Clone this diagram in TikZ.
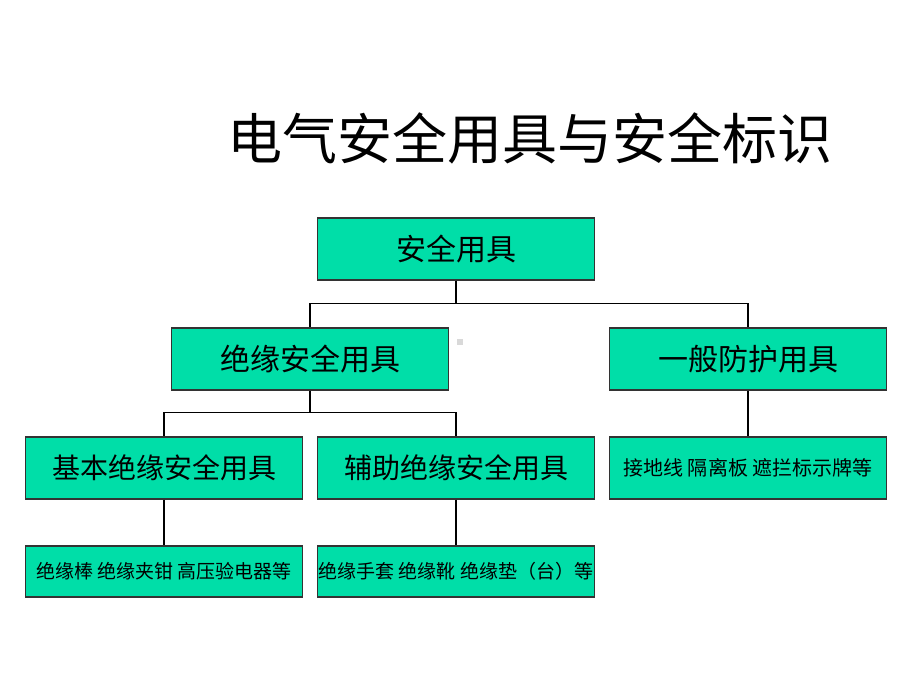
\documentclass[tikz,border=0pt]{standalone}
\usepackage{fontspec}
\setmainfont{Noto Sans CJK SC}
\usepackage{xcolor}
\definecolor{boxgreen}{RGB}{0,222,168}
\newcommand{\boxwd}{277pt}

\begin{document}
\begin{tikzpicture}[x=1pt,y=-1pt]
                \useasboundingbox (0,0) rectangle (920,690);
                \node (T) at (530,138) {\fontsize{55}{60}\selectfont 电气安全用具与安全标识};

                \begin{scope}[every node/.style={rectangle,draw=black!80,line width=1.3pt,fill=boxgreen,
                    minimum width=\boxwd,inner sep=0pt}]
                    \node[minimum height=62pt,font=\fontsize{30}{34}\selectfont] (R) at (456,249) {安全用具};
                    \node[minimum height=62pt,font=\fontsize{30}{34}\selectfont] (I) at (310,359) {绝缘安全用具};
                    \node[minimum height=62pt,font=\fontsize{30}{34}\selectfont] (G) at (748,359) {一般防护用具};
                    \node[minimum height=62pt,font=\fontsize{28}{32}\selectfont] (B) at (164,468) {基本绝缘安全用具};
                    \node[minimum height=62pt,font=\fontsize{28}{32}\selectfont] (A) at (456,468) {辅助绝缘安全用具};
                    \node[minimum height=62pt,font=\fontsize{20}{24}\selectfont] (GL) at (748,468) {接地线 隔离板 遮拦标示牌等};
                    \node[minimum height=51pt,font=\fontsize{19}{23}\selectfont] (BL) at (164,571.5) {绝缘棒 绝缘夹钳 高压验电器等};
                    \node[minimum height=51pt,font=\fontsize{19}{23}\selectfont] (AL) at (456,571.5) {绝缘手套 绝缘靴 绝缘垫（台）等};
                \end{scope}

                \begin{scope}[line width=1.3pt]
                    \draw (R.south) -- +(0,23) -| (I.north);
                    \draw (R.south) -- +(0,23) -| (G.north);
                    \draw (I.south) -- +(0,22) -| (B.north);
                    \draw (I.south) -- +(0,22) -| (A.north);
                    \draw (G.south) -- (GL.north);
                    \draw (B.south) -- (BL.north);
                    \draw (A.south) -- (AL.north);
                \end{scope}

                % small mark beside the box
                \fill[black!15] (457,339) rectangle (463,345);
            \end{tikzpicture}
\end{document}
